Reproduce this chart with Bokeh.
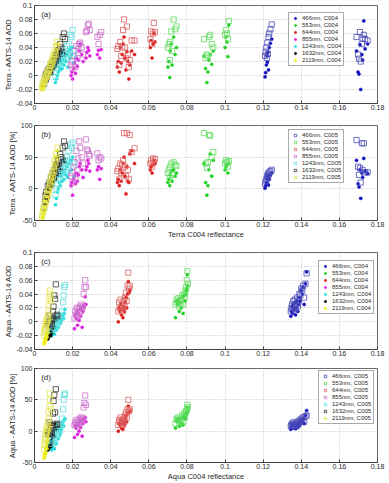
from bokeh.plotting import figure
from bokeh.models import (Legend, LegendItem, FixedTicker, Label, Range1d,
                          CustomJSTickFormatter)
from bokeh.layouts import column
from bokeh.embed import file_html
from bokeh.resources import INLINE

# ---------------------------------------------------------------- categories
bands = ["466nm", "553nm", "644nm", "855nm", "1243nm", "1632nm", "2119nm"]
dot_colors = ["#1010c0", "#20d020", "#dd1a1a", "#dd22dd", "#22dddd", "#000000", "#eeee10"]
square_colors = ["#4a4ab8", "#60dd60", "#dd6060", "#cc70cc", "#60dede", "#3a3a3a", "#e4e450"]

x_ticks = [0, 0.02, 0.04, 0.06, 0.08, 0.1, 0.12, 0.14, 0.16, 0.18]
aod_ticks = [-0.04, -0.02, 0, 0.02, 0.04, 0.06, 0.08, 0.1]
pct_ticks = [-50, 0, 50, 100]

# ---------------------------------------------------------------- Terra
t466_x = [0.1210, 0.1213, 0.1217, 0.1220, 0.1222, 0.1225, 0.1228, 0.1232, 0.1238, 0.1245,
          0.1690, 0.1698, 0.1703, 0.1708, 0.1712, 0.1718, 0.1722, 0.1728, 0.1735, 0.1748]
t466_aod4 = [-0.002, 0.004, 0.015, 0.028, 0.019, 0.033, 0.008, 0.040, 0.046, 0.052,
             0.035, 0.005, 0.002, 0.044, -0.020, 0.030, 0.022, 0.078, 0.038, 0.045]
t466_aod5 = [0.028, 0.034, 0.040, 0.025, 0.047, 0.031, 0.055, 0.060, 0.066, 0.073,
             0.055, 0.030, 0.024, 0.062, 0.020, 0.045, 0.053, 0.058, 0.052, 0.050]
t466_pct4 = [1, 5, 10, 16, 9, 20, 6, 15, 22, 25, 45, 8, 3, 30, -15, 25, 18, 48, 28, 24]
t466_pct5 = [8, 12, 15, 20, 18, 24, 22, 26, 28, 30, 77, 35, 22, 33, 10, 72, 30, 72, 26, 26]

t553_x = [0.0700, 0.0705, 0.0710, 0.0712, 0.0718, 0.0722, 0.0730, 0.0738, 0.0745,
          0.0890, 0.0898, 0.0905, 0.0910, 0.0915, 0.0922, 0.0930, 0.0938,
          0.1000, 0.1005, 0.1010, 0.1015, 0.1020]
t553_aod4 = [0.012, 0.020, -0.003, 0.035, 0.045, 0.015, 0.055, 0.030, 0.040,
             0.028, 0.010, -0.010, 0.005, 0.022, 0.030, 0.016, 0.035,
             0.040, 0.055, 0.048, 0.027, 0.072]
t553_aod5 = [0.040, 0.045, 0.022, 0.048, 0.063, 0.035, 0.080, 0.066, 0.070,
             0.052, 0.025, 0.030, 0.028, 0.055, 0.058, 0.045, 0.040,
             0.058, 0.065, 0.060, 0.052, 0.078]
t553_pct4 = [10, 15, 5, 22, 28, 12, 30, 20, 25, 40, 10, -10, 5, 30, 55, 20, 45, 30, 35, 38, 25, 40]
t553_pct5 = [25, 30, 18, 35, 40, 22, 42, 38, 36, 88, 40, 33, 42, 85, 84, 50, 58, 40, 45, 42, 35, 44]

t644_x = [0.0435, 0.0440, 0.0445, 0.0450, 0.0455, 0.0460, 0.0465, 0.0470, 0.0475, 0.0480,
          0.0485, 0.0490, 0.0495, 0.0500, 0.0510, 0.0525,
          0.0608, 0.0612, 0.0617, 0.0622, 0.0626, 0.0632]
t644_aod4 = [0.012, 0.020, 0.005, 0.040, 0.018, 0.030, 0.045, 0.055, 0.025, 0.008,
             0.034, 0.020, -0.005, 0.015, 0.035, 0.030,
             0.040, 0.050, 0.025, 0.045, 0.060, 0.048]
t644_aod5 = [0.038, 0.042, 0.015, 0.048, 0.028, 0.040, 0.065, 0.080, 0.040, 0.025,
             0.070, 0.030, 0.012, 0.022, 0.050, 0.050,
             0.052, 0.063, 0.045, 0.060, 0.075, 0.062]
t644_pct4 = [10, 15, 5, 30, 12, 25, 40, 50, 20, -8, 35, 12, 10, 55, 60, 40, 30, 35, 25, 38, 45, 40]
t644_pct5 = [28, 32, 15, 40, 25, 38, 45, 88, 35, 20, 88, 30, 15, 85, 58, 64, 40, 45, 35, 48, 42, 47]

t855_x = [0.0192, 0.0196, 0.0200, 0.0205, 0.0210, 0.0215, 0.0220, 0.0225, 0.0230, 0.0235,
          0.0240, 0.0248, 0.0255, 0.0270, 0.0275, 0.0280, 0.0285, 0.0290,
          0.0330, 0.0336, 0.0342, 0.0350]
t855_aod4 = [0.000, 0.005, -0.005, 0.010, 0.018, 0.003, 0.025, 0.013, 0.022, 0.035,
             0.045, 0.030, 0.020, 0.025, 0.033, 0.040, 0.036, 0.028,
             0.030, 0.036, 0.025, 0.037]
t855_aod5 = [0.015, 0.020, 0.010, 0.028, 0.035, 0.012, 0.042, 0.025, 0.038, 0.045,
             0.047, 0.040, 0.030, 0.062, 0.064, 0.072, 0.074, 0.065,
             0.055, 0.045, 0.058, 0.062]
t855_pct4 = [5, 10, -10, 15, 20, 8, 25, 12, 22, 35, 40, 30, 18, 30, 35, 45, 40, 28, 30, 35, 15, 32]
t855_pct5 = [20, 25, 10, 35, 42, 15, 60, 30, 48, 75, 65, 50, 40, 78, 62, 60, 55, 52, 56, 45, 50, 48]

t1243_x = [0.0110, 0.0115, 0.0120, 0.0125, 0.0130, 0.0135, 0.0140, 0.0145, 0.0150, 0.0155,
           0.0160, 0.0165, 0.0170, 0.0175, 0.0180, 0.0185, 0.0190, 0.0195, 0.0200, 0.0205]
t1243_aod4 = [-0.010, -0.005, 0.000, 0.005, 0.012, 0.008, 0.018, 0.010, 0.022, 0.015,
              0.028, 0.020, 0.030, 0.012, 0.035, 0.025, 0.038, 0.030, 0.040, 0.018]
t1243_aod5 = [-0.002, 0.005, 0.010, 0.015, 0.020, 0.018, 0.028, 0.022, 0.032, 0.026,
              0.038, 0.030, 0.042, 0.025, 0.045, 0.035, 0.058, 0.055, 0.065, 0.030]
t1243_pct4 = [-25, -15, -5, 0, 10, 5, 20, 12, 25, 15, 30, 22, 35, 18, 40, 28, 45, 30, 50, 20]
t1243_pct5 = [-10, 0, 8, 15, 22, 18, 30, 25, 40, 32, 45, 35, 50, 30, 60, 45, 70, 65, 73, 40]

t1632_x = [0.0050, 0.0055, 0.0058, 0.0062, 0.0066, 0.0070, 0.0074, 0.0078, 0.0082, 0.0086,
           0.0090, 0.0095, 0.0100, 0.0105, 0.0110, 0.0115, 0.0120, 0.0125, 0.0130, 0.0135,
           0.0140, 0.0148, 0.0155, 0.0160]
t1632_aod4 = [-0.015, -0.010, -0.005, 0.000, -0.008, 0.004, 0.000, 0.006, 0.002, 0.010,
              0.005, 0.015, 0.010, 0.020, 0.015, 0.025, 0.018, 0.030, 0.022, 0.035,
              0.028, 0.032, 0.035, 0.030]
t1632_aod5 = [-0.012, -0.005, 0.000, 0.003, -0.002, 0.008, 0.005, 0.010, 0.005, 0.015,
              0.012, 0.020, 0.015, 0.025, 0.022, 0.030, 0.028, 0.036, 0.035, 0.045,
              0.040, 0.055, 0.060, 0.052]
t1632_pct4 = [-35, -25, -15, -10, -20, 0, -5, 5, 0, 10, 5, 18, 12, 22, 15, 28, 20, 35, 25, 40,
              30, 45, 48, 42]
t1632_pct5 = [-30, -20, -10, -5, -12, 5, 0, 10, 5, 18, 12, 25, 20, 30, 25, 38, 35, 45, 40, 55,
              50, 65, 75, 68]

t2119_x = [0.0040, 0.0042, 0.0045, 0.0048, 0.0050, 0.0053, 0.0056, 0.0060, 0.0063, 0.0066,
           0.0070, 0.0073, 0.0076, 0.0080, 0.0083, 0.0086, 0.0090, 0.0093, 0.0096, 0.0100,
           0.0103, 0.0106, 0.0110, 0.0113, 0.0116, 0.0120]
t2119_aod4 = [-0.020, -0.016, -0.018, -0.012, -0.014, -0.008, -0.010, -0.004, -0.006, 0.000,
              -0.002, 0.005, 0.002, 0.010, 0.006, 0.015, 0.010, 0.020, 0.015, 0.025,
              0.020, 0.030, 0.025, 0.038, 0.035, 0.045]
t2119_aod5 = [-0.018, -0.012, -0.015, -0.008, -0.010, -0.005, -0.006, 0.000, -0.002, 0.004,
              0.002, 0.008, 0.006, 0.014, 0.010, 0.018, 0.015, 0.024, 0.020, 0.030,
              0.026, 0.034, 0.030, 0.042, 0.040, 0.048]
t2119_pct4 = [-50, -45, -40, -35, -38, -28, -30, -20, -22, -12, -15, -5, -8, 5, 0, 12, 8, 20,
              15, 30, 25, 40, 35, 50, 45, 60]
t2119_pct5 = [-45, -40, -35, -30, -32, -22, -25, -15, -18, -8, -10, 0, -3, 10, 5, 18, 12, 25,
              20, 35, 30, 45, 40, 55, 50, 65]

# ---------------------------------------------------------------- Aqua
a466_x = [0.1345, 0.1348, 0.1352, 0.1355, 0.1358, 0.1362, 0.1366, 0.1370, 0.1374, 0.1378,
          0.1382, 0.1386, 0.1390, 0.1395, 0.1400, 0.1405, 0.1410, 0.1415, 0.1422, 0.1428]
a466_aod4 = [0.008, 0.015, 0.022, 0.012, 0.025, 0.018, 0.028, 0.010, 0.020, 0.030,
             0.015, 0.025, 0.035, 0.030, 0.045, 0.040, 0.050, 0.025, 0.055, 0.072]
a466_aod5 = [0.015, 0.020, 0.025, 0.018, 0.030, 0.022, 0.032, 0.018, 0.025, 0.035,
             0.022, 0.030, 0.040, 0.038, 0.048, 0.045, 0.052, 0.035, 0.055, 0.070]
a466_pct4 = [3, 6, 10, 5, 12, 8, 10, 4, 7, 12, 6, 9, 14, 12, 18, 15, 20, 12, 25, 33]
a466_pct5 = [8, 10, 12, 8, 14, 10, 12, 8, 10, 15, 10, 12, 17, 15, 20, 18, 22, 15, 24, 25]

a553_x = [0.0740, 0.0745, 0.0750, 0.0755, 0.0760, 0.0765, 0.0770, 0.0775, 0.0780, 0.0785,
          0.0790, 0.0793, 0.0796, 0.0799, 0.0802, 0.0805]
a553_aod4 = [0.006, 0.030, 0.025, 0.032, 0.015, 0.028, 0.020, 0.035, 0.012, 0.038,
             0.030, 0.040, 0.045, 0.048, 0.068, 0.052]
a553_aod5 = [0.025, 0.032, 0.028, 0.034, 0.022, 0.030, 0.026, 0.038, 0.025, 0.040,
             0.036, 0.045, 0.050, 0.060, 0.073, 0.055]
a553_pct4 = [5, 18, 15, 20, 8, 15, 12, 22, 10, 25, 20, 25, 28, 30, 38, 32]
a553_pct5 = [12, 20, 18, 22, 12, 18, 15, 25, 15, 28, 22, 30, 32, 35, 42, 38]

a644_x = [0.0440, 0.0444, 0.0448, 0.0452, 0.0456, 0.0460, 0.0464, 0.0468, 0.0472, 0.0476,
          0.0480, 0.0484, 0.0488, 0.0492, 0.0496, 0.0500]
a644_aod4 = [0.000, 0.020, 0.015, 0.025, 0.010, 0.018, 0.006, 0.022, 0.015, 0.028,
             0.035, 0.020, 0.040, 0.058, 0.042, 0.045]
a644_aod5 = [0.015, 0.028, 0.020, 0.032, 0.018, 0.025, 0.015, 0.030, 0.022, 0.035,
             0.042, 0.030, 0.052, 0.071, 0.048, 0.052]
a644_pct4 = [0, 12, 10, 18, 5, 12, 3, 15, 10, 20, 25, 15, 28, 40, 30, 32]
a644_pct5 = [10, 18, 15, 22, 12, 18, 10, 20, 15, 25, 30, 22, 35, 50, 32, 35]

a855_x = [0.0210, 0.0214, 0.0218, 0.0222, 0.0226, 0.0230, 0.0234, 0.0238, 0.0242, 0.0246,
          0.0250, 0.0254, 0.0258, 0.0262, 0.0266, 0.0270]
a855_aod4 = [-0.010, 0.010, 0.005, 0.015, -0.005, 0.012, 0.002, 0.018, 0.008, 0.020,
             -0.008, 0.015, 0.022, 0.025, 0.036, 0.025]
a855_aod5 = [0.005, 0.015, 0.010, 0.020, 0.008, 0.018, 0.012, 0.022, 0.015, 0.025,
             0.020, 0.022, 0.040, 0.050, 0.060, 0.050]
a855_pct4 = [-10, 8, 5, 12, -5, 10, 0, 15, 6, 18, -8, 12, 18, 20, 22, 15]
a855_pct5 = [10, 15, 12, 18, 8, 15, 12, 20, 15, 22, 18, 20, 38, 45, 57, 42]

a1243_x = [0.0090, 0.0095, 0.0100, 0.0105, 0.0110, 0.0115, 0.0120, 0.0125, 0.0130, 0.0135,
           0.0140, 0.0145, 0.0150, 0.0153, 0.0156, 0.0160]
a1243_aod4 = [-0.020, -0.015, -0.010, -0.018, -0.005, -0.012, 0.000, -0.008, 0.005, -0.003,
              0.002, 0.008, 0.010, 0.005, 0.012, 0.018]
a1243_aod5 = [-0.012, -0.008, -0.002, -0.010, 0.002, -0.005, 0.005, 0.000, 0.008, 0.003,
              0.010, 0.015, 0.028, 0.038, 0.050, 0.053]
a1243_pct4 = [-30, -25, -15, -28, -8, -20, 0, -12, 5, -5, 2, 10, 15, 8, 18, 20]
a1243_pct5 = [-20, -15, -5, -18, 0, -10, 5, -5, 10, 2, 12, 20, 35, 50, 58, 60]

a1632_x = [0.0070, 0.0073, 0.0076, 0.0079, 0.0082, 0.0085, 0.0088, 0.0091, 0.0094, 0.0097,
           0.0100, 0.0104, 0.0108, 0.0112, 0.0116, 0.0120]
a1632_aod4 = [-0.025, -0.022, -0.020, -0.018, -0.015, -0.020, -0.012, -0.016, -0.010, -0.005,
              0.000, -0.008, 0.005, 0.008, 0.002, 0.006]
a1632_aod5 = [-0.005, -0.002, 0.000, 0.009, -0.003, 0.002, 0.005, -0.004, 0.003, 0.015,
              0.022, 0.038, 0.033, 0.054, 0.010, 0.008]
a1632_pct4 = [-30, -28, -25, -22, -18, -25, -15, -20, -10, -5, 0, -8, 5, 12, 2, 8]
a1632_pct5 = [-5, -2, 0, 14, -3, 5, 10, -4, 8, 28, 48, 58, 30, 67, 12, 10]

a2119_x = [0.0050, 0.0052, 0.0054, 0.0056, 0.0058, 0.0060, 0.0062, 0.0064, 0.0066, 0.0068,
           0.0070, 0.0072, 0.0074, 0.0076, 0.0078, 0.0080, 0.0083, 0.0086]
a2119_aod4 = [-0.032, -0.028, -0.030, -0.025, -0.022, -0.026, -0.020, -0.018, -0.022, -0.015,
              -0.012, -0.016, -0.010, -0.005, -0.008, 0.000, 0.003, 0.005]
a2119_aod5 = [-0.020, -0.015, -0.012, -0.010, -0.005, -0.008, 0.000, 0.003, -0.002, 0.005,
              0.010, 0.002, 0.025, 0.015, 0.035, 0.045, 0.040, 0.030]
a2119_pct4 = [-43, -38, -40, -33, -28, -35, -25, -20, -28, -15, -10, -18, -5, 0, -8, 5, 8, 10]
a2119_pct5 = [-30, -22, -18, -12, -5, -10, 0, 5, -2, 8, 15, 3, 30, 20, 40, 60, 50, 35]

terra_x = [t466_x, t553_x, t644_x, t855_x, t1243_x, t1632_x, t2119_x]
aqua_x = [a466_x, a553_x, a644_x, a855_x, a1243_x, a1632_x, a2119_x]

FONT = "Liberation Sans"
TEXT = "#2a2a2a"


def panel(xs, y_dots, y_squares, y_range, y_ticks, y_label, x_label, tag,
          legend_squares, legend_xy, height, top, bottom):
    p = figure(width=389, height=height, output_backend="svg", toolbar_location=None,
               x_range=Range1d(0, 0.18), y_range=Range1d(y_range[0], y_range[1]),
               min_border_left=29, min_border_right=12,
               min_border_top=top, min_border_bottom=bottom)
    p.background_fill_color = "white"
    p.border_fill_color = "white"
    p.outline_line_color = "#444444"
    p.outline_line_width = 0.8

    fmt = CustomJSTickFormatter(code="return String(Math.round(tick * 100) / 100);")
    p.xaxis.ticker = FixedTicker(ticks=x_ticks)
    p.yaxis.ticker = FixedTicker(ticks=y_ticks)
    p.xaxis.formatter = fmt
    p.yaxis.formatter = fmt
    for ax in (p.xaxis[0], p.yaxis[0]):
        ax.major_tick_in = 3
        ax.major_tick_out = 0
        ax.minor_tick_in = 0
        ax.minor_tick_out = 0
        ax.axis_line_color = "#444444"
        ax.major_tick_line_color = "#444444"
        ax.major_label_text_font = FONT
        ax.major_label_text_font_size = "7px"
        ax.major_label_text_color = TEXT
        ax.major_label_standoff = 2
        ax.axis_label_text_font = FONT
        ax.axis_label_text_font_size = "7.5px"
        ax.axis_label_text_font_style = "normal"
        ax.axis_label_text_color = TEXT
        ax.axis_label_standoff = 1
    p.xaxis.major_label_standoff = 1
    p.xaxis.axis_label_standoff = 0
    p.yaxis.axis_label = y_label
    if x_label:
        p.xaxis.axis_label = x_label

    for g in (p.xgrid[0], p.ygrid[0]):
        g.grid_line_color = "#b0b0b0"
        g.grid_line_dash = "1 2"
        g.grid_line_width = 0.8

    dots, squares = [], []
    for i in range(len(bands)):
        dots.append(p.scatter(xs[i], y_dots[i], marker="circle", size=3.2,
                              fill_color=dot_colors[i], line_color=dot_colors[i], line_width=0.4))
    for i in range(len(bands)):
        squares.append(p.scatter(xs[i], y_squares[i], marker="square", size=5.2,
                                 fill_color=None, line_color=square_colors[i], line_width=0.8))

    if legend_squares:
        items = [LegendItem(label=f"{b}, C005", renderers=[squares[i]]) for i, b in enumerate(bands)]
    else:
        items = [LegendItem(label=f"{b}, C004", renderers=[dots[i]]) for i, b in enumerate(bands)]
    leg = Legend(items=items, location=legend_xy, margin=0, padding=2, spacing=1,
                 glyph_width=8, glyph_height=6, label_height=6, label_standoff=3,
                 label_text_font=FONT, label_text_font_size="6px",
                 label_text_line_height=1.0,
                 label_text_color=TEXT, border_line_color="#555555",
                 border_line_width=0.8, background_fill_color="white",
                 background_fill_alpha=1.0)
    p.add_layout(leg)

    span = y_range[1] - y_range[0]
    p.add_layout(Label(x=0.0035, y=y_range[1] - span * 0.095, text=tag,
                       text_font=FONT, text_font_size="8px", text_color=TEXT,
                       text_baseline="middle"))
    return p


pa = panel(terra_x,
           [t466_aod4, t553_aod4, t644_aod4, t855_aod4, t1243_aod4, t1632_aod4, t2119_aod4],
           [t466_aod5, t553_aod5, t644_aod5, t855_aod5, t1243_aod5, t1632_aod5, t2119_aod5],
           (-0.04, 0.1), aod_ticks, "Terra - AATS-14 AOD", None, "(a)",
           False, (254, 37), 120, 5, 17)
pb = panel(terra_x,
           [t466_pct4, t553_pct4, t644_pct4, t855_pct4, t1243_pct4, t1632_pct4, t2119_pct4],
           [t466_pct5, t553_pct5, t644_pct5, t855_pct5, t1243_pct5, t1632_pct5, t2119_pct5],
           (-50, 100), pct_ticks, "Terra - AATS-14 AOD [%]", "Terra C004 reflectance", "(b)",
           True, (254, 37), 121, 5, 18)
pc = panel(aqua_x,
           [a466_aod4, a553_aod4, a644_aod4, a855_aod4, a1243_aod4, a1632_aod4, a2119_aod4],
           [a466_aod5, a553_aod5, a644_aod5, a855_aod5, a1243_aod5, a1632_aod5, a2119_aod5],
           (-0.04, 0.1), aod_ticks, "Aqua - AATS-14 AOD", None, "(c)",
           False, (284, 35), 119, 11, 11)
pd_ = panel(aqua_x,
            [a466_pct4, a553_pct4, a644_pct4, a855_pct4, a1243_pct4, a1632_pct4, a2119_pct4],
            [a466_pct5, a553_pct5, a644_pct5, a855_pct5, a1243_pct5, a1632_pct5, a2119_pct5],
            (-50, 100), pct_ticks, "Aqua - AATS-14 AOD [%]", "Aqua C004 reflectance", "(d)",
            True, (284, 38), 123, 8, 17)

layout = column(pa, pb, pc, pd_, spacing=0)

with open("out.html", "w") as f:
    f.write(file_html(layout, INLINE))
